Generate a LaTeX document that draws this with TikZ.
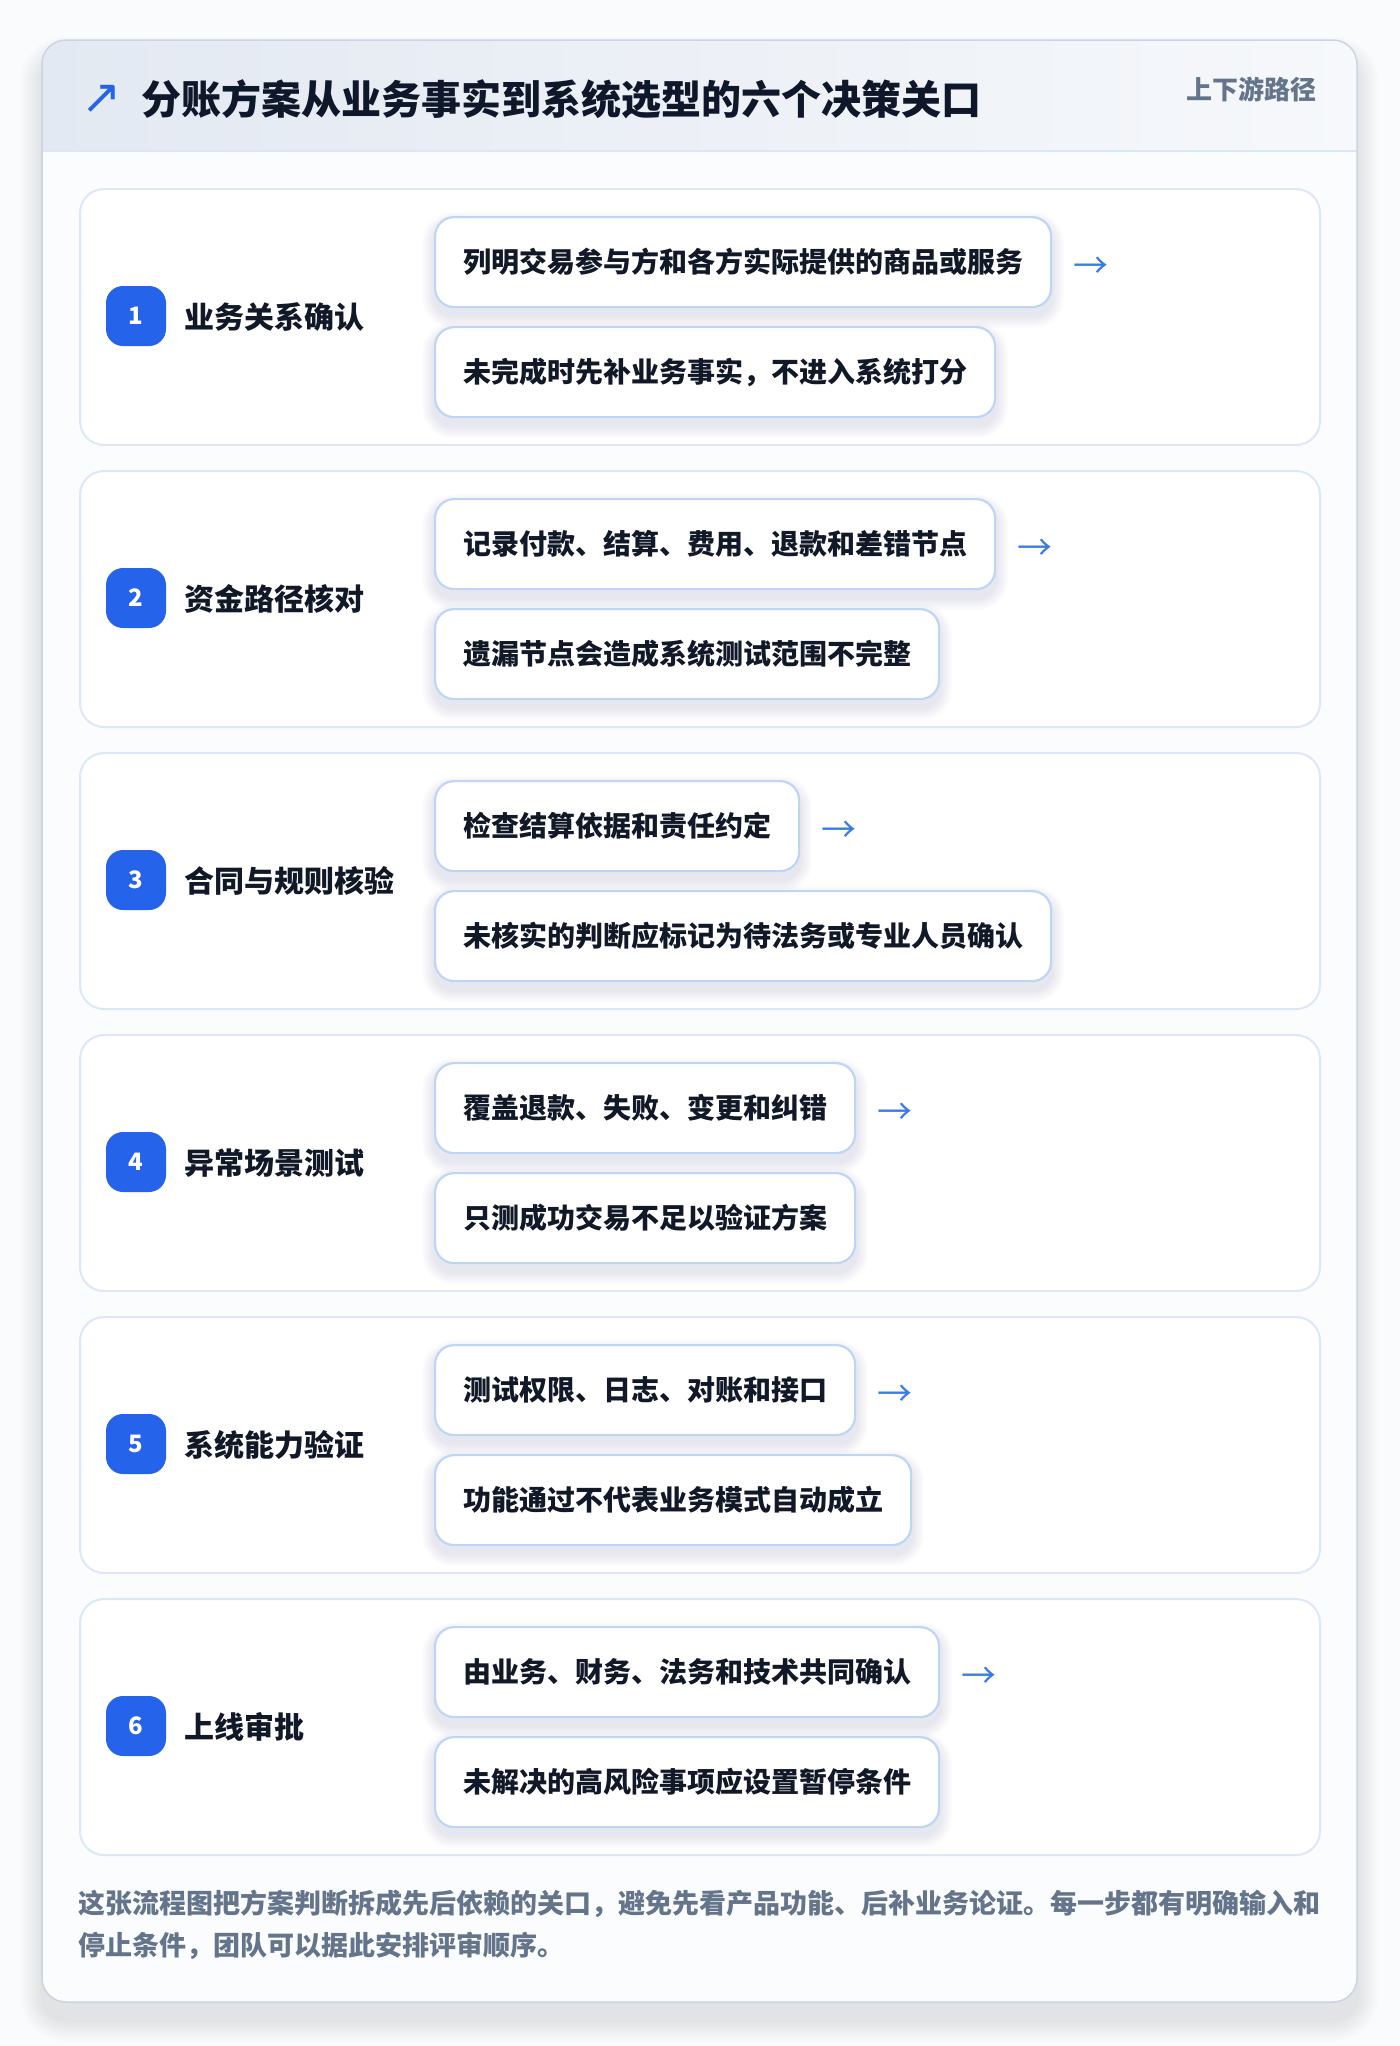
\documentclass[tikz,border=0pt]{standalone}
\usepackage{fontspec}
\setmainfont{Noto Sans CJK SC}
\newfontfamily\symfont{DejaVu Sans}
\pgfdeclarelayer{back}
\pgfdeclarelayer{mid}
\pgfsetlayers{back,mid,main}
\definecolor{pagebg}{HTML}{FAFBFC}
\definecolor{cardbg}{HTML}{FBFCFE}
\definecolor{cardborder}{HTML}{CBD5E1}
\definecolor{hdrL}{HTML}{E3E9F2}
\definecolor{hdrR}{HTML}{F6F8FB}
\definecolor{hdrline}{HTML}{DCE6F4}
\definecolor{stageborder}{HTML}{DCE8F8}
\definecolor{subborder}{HTML}{BFD5F5}
\definecolor{badgec}{HTML}{2563EB}
\definecolor{titlec}{HTML}{0F172A}
\definecolor{labc}{HTML}{111827}
\definecolor{mutec}{HTML}{64748B}
\definecolor{arrc}{HTML}{3B7BE8}
\definecolor{shadowc}{HTML}{334155}
\tikzset{
  stagebox/.style={draw=stageborder, line width=2pt, fill=white, rounded corners=24pt,
    minimum width=1240pt, minimum height=256pt, inner sep=0pt, anchor=north west},
  subbox/.style={draw=subborder, line width=2.2pt, fill=white, rounded corners=19pt,
    minimum height=90pt, inner xsep=28pt, inner ysep=0pt, anchor=north west,
    text=labc, font=\fontsize{28}{34}\selectfont\bfseries},
  badge/.style={fill=badgec, rounded corners=17pt, minimum width=60pt, minimum height=60pt,
    inner sep=0pt, text=white, font=\fontsize{24}{28}\selectfont\bfseries},
  lab/.style={anchor=west, inner sep=0pt, text=labc, font=\fontsize{30}{36}\selectfont\bfseries},
  arr/.style={anchor=west, inner sep=0pt, text=arrc, font=\fontsize{35}{40}\selectfont},
  foot/.style={anchor=west, inner sep=0pt, text=mutec, font=\fontsize{27}{32}\selectfont\bfseries},
  softshadow/.style={fill=shadowc, opacity=0.012},
}
\begin{document}
\begin{tikzpicture}[x=1pt,y=-1pt]
\useasboundingbox (0,0) rectangle (1400,2046);
\begin{pgfonlayer}{back}
\fill[pagebg] (0,0) rectangle (1400,2046);
% card shadow
\foreach \k in {1,...,12}{
  \fill[softshadow, opacity=0.009, rounded corners=24pt+1.8*\k pt]
    (42-1.8*\k,40-1.8*\k+18) rectangle (1357+1.8*\k,2002+1.8*\k+18);
}
\fill[cardbg, rounded corners=24pt] (42,40) rectangle (1357,2002);
% header
\begin{scope}
  \clip[rounded corners=24pt] (42,40) rectangle (1357,2002);
  \shade[left color=hdrL, right color=hdrR] (42,40) rectangle (1357,151);
\end{scope}
\draw[hdrline, line width=2pt] (42,151) -- (1357,151);
\draw[cardborder, line width=1.5pt, rounded corners=24pt] (42,40) rectangle (1357,2002);
\end{pgfonlayer}
% title
\node[anchor=center, inner sep=0pt, text=badgec, font=\symfont\fontsize{48}{52}\selectfont] (ticon) at (102,99) {↗};
\node[anchor=west, inner sep=0pt, text=titlec, font=\fontsize{40}{46}\selectfont\bfseries] (title) at (141,99) {分账方案从业务事实到系统选型的六个决策关口};
\node[anchor=east, inner sep=0pt, text=mutec, font=\fontsize{26}{30}\selectfont\bfseries] (tag) at (1317,89) {上下游路径};
% stages
\foreach \i/\lab/\a/\b in {
  1/业务关系确认/列明交易参与方和各方实际提供的商品或服务/未完成时先补业务事实，不进入系统打分,
  2/资金路径核对/记录付款、结算、费用、退款和差错节点/遗漏节点会造成系统测试范围不完整,
  3/合同与规则核验/检查结算依据和责任约定/未核实的判断应标记为待法务或专业人员确认,
  4/异常场景测试/覆盖退款、失败、变更和纠错/只测成功交易不足以验证方案,
  5/系统能力验证/测试权限、日志、对账和接口/功能通过不代表业务模式自动成立,
  6/上线审批/由业务、财务、法务和技术共同确认/未解决的高风险事项应设置暂停条件}{
  \pgfmathsetmacro{\T}{188+282*(\i-1)}
  \begin{pgfonlayer}{back}
    \node[stagebox] (s\i) at (79,\T) {};
  \end{pgfonlayer}
  \node[badge] (b\i) at (136,\T+128) {\i};
  \node[lab] (l\i) at (184,\T+129) {\lab};
  \node[subbox] (a\i) at (434,\T+28) {\a};
  \node[subbox] (c\i) at (434,\T+138) {\b};
  \node[arr] (r\i) at ([xshift=21pt,yshift=-6pt]a\i.east) {→};
  \begin{pgfonlayer}{mid}
    \foreach \n in {a\i,c\i}{
      \foreach \k in {1,...,8}{
        \fill[softshadow, rounded corners=19pt+1.5*\k pt]
          ([xshift=-1.5*\k pt, yshift=1.5*\k pt-8pt]\n.north west) rectangle
          ([xshift=1.5*\k pt, yshift=-1.5*\k pt-8pt]\n.south east);
      }
    }
  \end{pgfonlayer}
}
% footer
\node[foot] (f1) at (78,1904) {这张流程图把方案判断拆成先后依赖的关口，避免先看产品功能、后补业务论证。每一步都有明确输入和};
\node[foot] (f2) at (78,1946) {停止条件，团队可以据此安排评审顺序。};
\end{tikzpicture}
\end{document}
